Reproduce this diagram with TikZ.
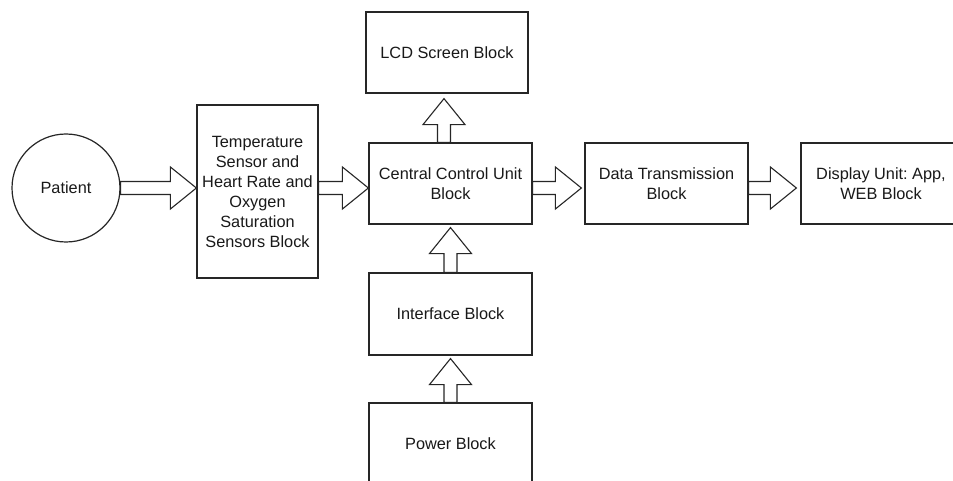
\documentclass[tikz,border=0pt]{standalone}
\usepackage{fontspec}
\setmainfont{Liberation Sans}
\usetikzlibrary{calc}
\frenchspacing
\tikzset{
  box/.style={draw=black!85, line width=1.2pt, fill=white, rectangle, align=center, inner sep=2pt,
    font=\fontsize{16.3}{20}\selectfont\frenchspacing, text=black!90},
  roundnode/.style={draw=black!85, line width=1.2pt, fill=white, circle, align=center, inner sep=0pt,
    minimum size=108pt, font=\fontsize{16.3}{20}\selectfont, text=black!90},
  blockarr/.style={draw=black!85, line width=1.1pt, fill=white, line join=miter}
}
\newcommand\blockarrow[2]{%
  \path (#2) coordinate (tmpB) ($(tmpB)!26pt!(#1)$) coordinate (tmpH);
  \draw[blockarr] ($(#1)!6.5pt!90:(tmpB)$) -- ($(tmpH)!6.5pt!90:(tmpB)$) -- ($(tmpH)!21pt!90:(tmpB)$)
    -- (tmpB) -- ($(tmpH)!21pt!-90:(tmpB)$) -- ($(tmpH)!6.5pt!-90:(tmpB)$)
    -- ($(#1)!6.5pt!-90:(tmpB)$) -- cycle;}
\begin{document}
\begin{tikzpicture}[x=1pt,y=-1pt]
\useasboundingbox (0,0) rectangle (953,481);
\node[roundnode] (patient) at (66,188) {Patient};
\node[box, minimum width=121pt, minimum height=173pt] (sensor) at (257.5,191.5)
  {Temperature\\Sensor and\\Heart Rate and\\Oxygen\\Saturation\\Sensors Block};
\node[box, minimum width=163pt, minimum height=81pt] (central) at (450.5,183.5) {Central Control Unit\\Block};
\node[box, minimum width=162pt, minimum height=81pt] (lcd) at (447,52.5) {LCD Screen Block};
\node[box, minimum width=163pt, minimum height=82pt] (interface) at (450.5,314) {Interface Block};
\node[box, minimum width=163pt, minimum height=81pt] (power) at (450.5,443.5) {Power Block};
\node[box, minimum width=163pt, minimum height=81pt] (data) at (666.5,183.5) {Data Transmission\\Block};
\node[box, minimum width=160pt, minimum height=81pt] (display) at (881,183.5) {Display Unit: App,\\WEB Block};
% connector end points
\coordinate (a1s) at (patient.east);
\coordinate (a1e) at (sensor.west |- patient.east);
\coordinate (a2s) at (sensor.east |- patient.east);
\coordinate (a2e) at (central.west |- patient.east);
\coordinate (a3s) at (central.east |- patient.east);
\coordinate (a3e) at ($(data.west |- patient.east)+(-3,0)$);
\coordinate (a4s) at (data.east |- patient.east);
\coordinate (a4e) at ($(display.west |- patient.east)+(-4,0)$);
\coordinate (a5e) at ($(lcd.south)+(-3,5)$);
\coordinate (a5s) at (central.north -| a5e);
\coordinate (a6s) at (interface.north);
\coordinate (a6e) at ($(central.south)+(0,3)$);
\coordinate (a7s) at (power.north);
\coordinate (a7e) at ($(interface.south)+(0,3)$);
\blockarrow{a1s}{a1e}
\blockarrow{a2s}{a2e}
\blockarrow{a3s}{a3e}
\blockarrow{a4s}{a4e}
\blockarrow{a5s}{a5e}
\blockarrow{a6s}{a6e}
\blockarrow{a7s}{a7e}
\end{tikzpicture}
\end{document}
